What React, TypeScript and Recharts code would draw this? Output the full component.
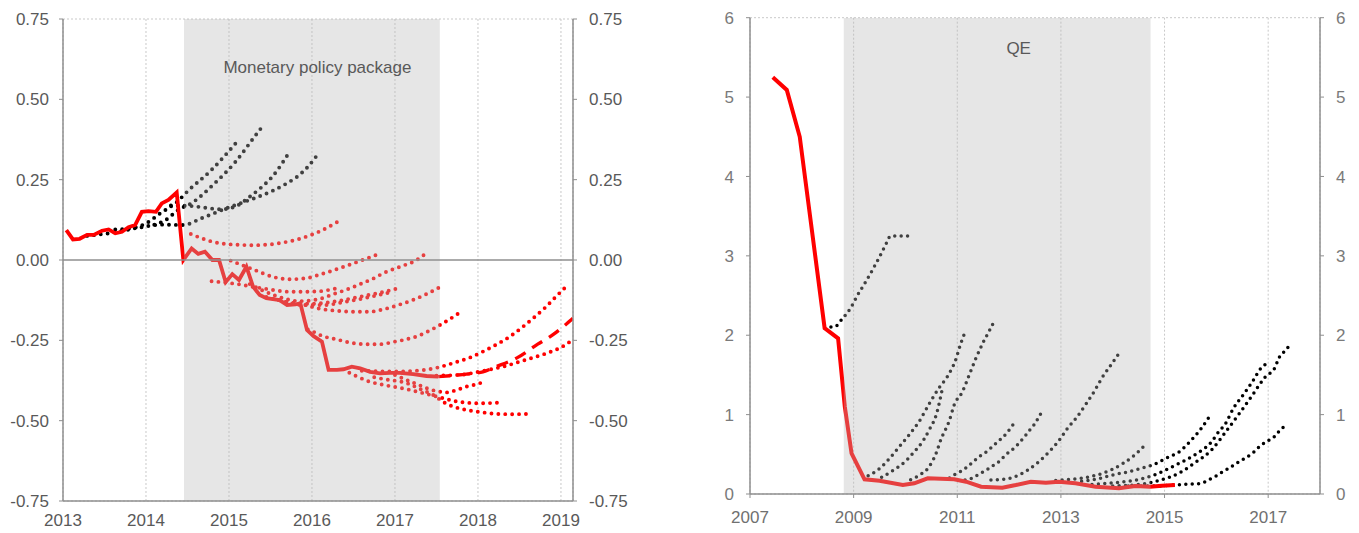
import React from 'react';
import { LineChart, Line, XAxis, YAxis, CartesianGrid, ReferenceArea, ReferenceLine } from 'recharts';

type P = [number, number];

// ---------------- Left panel: euro area ----------------
const leftYearTicks = [2013, 2014, 2015, 2016, 2017, 2018, 2019];
const leftRateTicks = [-0.75, -0.5, -0.25, 0, 0.25, 0.5, 0.75];
const leftXDomain = [2013, 2019.145];
const leftShade = [2014.458, 2017.54];
const leftShadeLabel = 'Monetary policy package';

const euroRate: P[] = [
  [2013.04, 0.093], [2013.12, 0.064], [2013.2, 0.066], [2013.29, 0.078], [2013.37, 0.078],
  [2013.47, 0.091], [2013.55, 0.095], [2013.63, 0.083], [2013.71, 0.088], [2013.79, 0.102],
  [2013.87, 0.109], [2013.95, 0.15], [2014.03, 0.152], [2014.12, 0.15], [2014.19, 0.176],
  [2014.27, 0.187], [2014.37, 0.21], [2014.45, 0.0], [2014.55, 0.036], [2014.63, 0.019],
  [2014.71, 0.026], [2014.8, 0.0], [2014.88, 0.0], [2014.96, -0.069], [2015.04, -0.044],
  [2015.12, -0.062], [2015.21, -0.021], [2015.29, -0.083], [2015.37, -0.109], [2015.45, -0.119],
  [2015.53, -0.122], [2015.61, -0.125], [2015.7, -0.14], [2015.8, -0.138], [2015.86, -0.135],
  [2015.94, -0.218], [2016.02, -0.237], [2016.12, -0.254], [2016.2, -0.342], [2016.3, -0.342],
  [2016.38, -0.34], [2016.48, -0.332], [2016.58, -0.337], [2016.7, -0.348], [2016.82, -0.353],
  [2016.94, -0.351], [2017.06, -0.351], [2017.22, -0.355], [2017.38, -0.361], [2017.52, -0.363],
];
const euroForward: P[] = [
  [2017.52, -0.363], [2017.86, -0.355], [2018.06, -0.348], [2018.22, -0.332], [2018.48, -0.303],
  [2018.72, -0.262], [2018.9, -0.233], [2019.145, -0.181],
];

const euroG1: P[] = [[2013.63, 0.095], [2013.83, 0.099], [2014.0, 0.114], [2014.17, 0.145], [2014.37, 0.18], [2014.51, 0.216], [2014.78, 0.278], [2015.09, 0.366]];
const euroG2: P[] = [[2014.1, 0.11], [2014.24, 0.125], [2014.39, 0.156], [2014.55, 0.177], [2014.82, 0.237], [2015.08, 0.306], [2015.3, 0.381], [2015.41, 0.418]];
const euroG3: P[] = [[2014.3, 0.17], [2014.53, 0.168], [2014.91, 0.158], [2015.09, 0.168], [2015.25, 0.197], [2015.39, 0.226], [2015.53, 0.262], [2015.73, 0.337]];
const euroG4: P[] = [[2013.29, 0.075], [2013.6, 0.085], [2013.9, 0.1], [2014.2, 0.11], [2014.45, 0.109], [2014.67, 0.13], [2015.0, 0.164], [2015.25, 0.187], [2015.53, 0.216], [2015.7, 0.239], [2015.82, 0.259], [2015.96, 0.293], [2016.07, 0.329]];

const euroR1: P[] = [[2014.54, 0.081], [2014.8, 0.057], [2015.05, 0.048], [2015.3, 0.046], [2015.6, 0.052], [2015.85, 0.066], [2016.1, 0.09], [2016.31, 0.119]];
const euroR2: P[] = [[2015.02, -0.002], [2015.29, -0.029], [2015.55, -0.054], [2015.73, -0.06], [2015.92, -0.057], [2016.1, -0.045], [2016.27, -0.031], [2016.44, -0.016], [2016.61, 0.0], [2016.78, 0.016]];
const euroR3: P[] = [[2015.25, -0.075], [2015.55, -0.11], [2015.85, -0.128], [2016.08, -0.122], [2016.26, -0.106], [2016.43, -0.091], [2016.6, -0.073], [2016.76, -0.055], [2016.86, -0.041], [2017.04, -0.023], [2017.28, 0.003], [2017.35, 0.016]];
const euroR4: P[] = [[2014.79, -0.066], [2015.1, -0.075], [2015.4, -0.088], [2015.75, -0.099], [2016.05, -0.098], [2016.3, -0.088]];
const euroR5: P[] = [[2015.92, -0.14], [2016.1, -0.152], [2016.3, -0.158], [2016.5, -0.161], [2016.69, -0.161], [2016.87, -0.153], [2017.04, -0.14], [2017.21, -0.125], [2017.38, -0.106], [2017.55, -0.083]];
const euroR6: P[] = [[2015.45, -0.115], [2015.75, -0.132], [2016.0, -0.136], [2016.3, -0.128], [2016.6, -0.113], [2016.85, -0.1], [2017.05, -0.087]];
const euroR7: P[] = [[2015.6, -0.125], [2015.9, -0.14], [2016.15, -0.14], [2016.4, -0.13], [2016.7, -0.115], [2016.95, -0.1]];
const euroRU: P[] = [[2015.95, -0.216], [2016.04, -0.226], [2016.12, -0.236], [2016.28, -0.246], [2016.46, -0.257], [2016.64, -0.262], [2016.82, -0.262], [2017.0, -0.254], [2017.1, -0.249], [2017.27, -0.237], [2017.43, -0.218], [2017.59, -0.195], [2017.75, -0.169], [2017.82, -0.157]];
const euroR8: P[] = [[2016.6, -0.345], [2017.0, -0.347], [2017.36, -0.342], [2017.54, -0.333], [2017.71, -0.32], [2017.9, -0.304], [2018.06, -0.285], [2018.23, -0.262], [2018.38, -0.239], [2018.53, -0.21], [2018.67, -0.18], [2018.81, -0.148], [2018.94, -0.114], [2019.07, -0.081]];
const euroR9: P[] = [[2017.5, -0.36], [2017.8, -0.357], [2018.06, -0.345], [2018.3, -0.332], [2018.57, -0.311], [2018.83, -0.29], [2019.0, -0.272], [2019.12, -0.252], [2019.145, -0.247]];
const euroR10: P[] = [[2016.45, -0.351], [2016.53, -0.361], [2016.7, -0.379], [2016.87, -0.389], [2017.14, -0.402], [2017.38, -0.417], [2017.58, -0.43], [2017.76, -0.441], [2018.04, -0.446], [2018.31, -0.443]];
const euroR11: P[] = [[2016.75, -0.365], [2016.87, -0.371], [2017.15, -0.384], [2017.29, -0.4], [2017.46, -0.42], [2017.61, -0.446], [2017.69, -0.455], [2017.87, -0.467], [2018.05, -0.474], [2018.23, -0.479], [2018.42, -0.48], [2018.6, -0.479]];
const euroR12: P[] = [[2017.0, -0.358], [2017.25, -0.385], [2017.5, -0.408], [2017.62, -0.412], [2017.77, -0.402], [2017.86, -0.394], [2017.95, -0.389], [2018.04, -0.382]];

const euroBlackCurves = [euroG1, euroG2, euroG3, euroG4];
const euroRedCurves = [euroR1, euroR2, euroR3, euroR4, euroR5, euroR6, euroR7, euroRU, euroR8, euroR9, euroR10, euroR11, euroR12];

// ---------------- Right panel: United States ----------------
const rightYearTicks = [2007, 2009, 2011, 2013, 2015, 2017];
const rightRateTicks = [0, 1, 2, 3, 4, 5, 6];
const rightXDomain = [2007, 2018];
const rightShade = [2008.81, 2014.73];
const rightShadeLabel = 'QE';

const usRate: P[] = [
  [2007.44, 5.25], [2007.71, 5.09], [2007.96, 4.5], [2008.44, 2.09], [2008.7, 1.96], [2008.83, 1.1],
  [2008.96, 0.51], [2009.21, 0.185], [2009.5, 0.168], [2009.95, 0.113], [2010.17, 0.135],
  [2010.43, 0.198], [2010.94, 0.185], [2011.17, 0.155], [2011.46, 0.092], [2011.87, 0.08],
  [2012.13, 0.113], [2012.42, 0.155], [2012.71, 0.142], [2012.96, 0.155], [2013.28, 0.135],
  [2013.67, 0.092], [2014.12, 0.072], [2014.44, 0.1], [2014.72, 0.092], [2014.95, 0.105], [2015.2, 0.113],
];

const usB0: P[] = [[2008.44, 2.09], [2008.54, 2.1], [2008.67, 2.12], [2008.76, 2.19], [2008.94, 2.34], [2009.08, 2.51], [2009.23, 2.67], [2009.37, 2.83], [2009.51, 3.0], [2009.64, 3.17], [2009.71, 3.25], [2009.85, 3.25], [2010.0, 3.25], [2010.15, 3.25]];
const usC1: P[] = [[2009.28, 0.23], [2009.5, 0.32], [2009.71, 0.46], [2009.9, 0.61], [2010.09, 0.76], [2010.26, 0.91], [2010.48, 1.16], [2010.64, 1.33], [2010.82, 1.49], [2010.98, 1.71], [2011.05, 1.86], [2011.15, 2.04]];
const usC2: P[] = [[2009.54, 0.21], [2009.79, 0.31], [2010.03, 0.43], [2010.14, 0.51], [2010.35, 0.68], [2010.46, 0.81], [2010.59, 0.99], [2010.72, 1.35]];
const usC3: P[] = [[2010.1, 0.18], [2010.3, 0.25], [2010.43, 0.32], [2010.59, 0.51], [2010.68, 0.68], [2010.85, 0.93], [2010.94, 1.12], [2011.1, 1.29], [2011.23, 1.5], [2011.36, 1.71], [2011.5, 1.91], [2011.63, 2.07], [2011.7, 2.16]];
const usC4: P[] = [[2010.85, 0.2], [2010.94, 0.24], [2011.08, 0.29], [2011.19, 0.34], [2011.33, 0.42], [2011.42, 0.47], [2011.56, 0.53], [2011.65, 0.58], [2011.75, 0.64], [2011.87, 0.71], [2011.96, 0.77], [2012.06, 0.86], [2012.15, 0.93]];
const usC5: P[] = [[2011.15, 0.176], [2011.29, 0.2], [2011.42, 0.25], [2011.56, 0.3], [2011.67, 0.35], [2011.79, 0.4], [2011.9, 0.47], [2012.0, 0.53], [2012.12, 0.59], [2012.21, 0.655], [2012.31, 0.73], [2012.38, 0.79], [2012.48, 0.87], [2012.65, 1.06]];
const usC6: P[] = [[2011.65, 0.176], [2011.9, 0.185], [2012.16, 0.23], [2012.38, 0.31], [2012.58, 0.41], [2012.77, 0.53], [2012.96, 0.67], [2013.13, 0.83], [2013.31, 0.97], [2013.49, 1.14], [2013.65, 1.3], [2013.79, 1.46], [2013.96, 1.62], [2014.12, 1.77]];
const usC7: P[] = [[2012.9, 0.17], [2013.09, 0.18], [2013.4, 0.2], [2013.7, 0.24], [2013.96, 0.3], [2014.21, 0.39], [2014.44, 0.5], [2014.66, 0.64]];
const usK0: P[] = [[2013.4, 0.16], [2013.7, 0.19], [2014.0, 0.24], [2014.3, 0.28], [2014.53, 0.32], [2014.82, 0.38], [2015.09, 0.47], [2015.28, 0.53], [2015.49, 0.66], [2015.69, 0.81], [2015.86, 0.97]];
const usK1: P[] = [[2013.6, 0.12], [2014.0, 0.14], [2014.4, 0.17], [2014.8, 0.24], [2015.2, 0.36], [2015.6, 0.5], [2015.91, 0.66], [2016.04, 0.78], [2016.17, 0.88], [2016.33, 1.08], [2016.52, 1.25], [2016.69, 1.41], [2016.88, 1.6], [2017.0, 1.65]];
const usK2: P[] = [[2014.0, 0.1], [2014.5, 0.12], [2014.9, 0.17], [2015.3, 0.27], [2015.6, 0.4], [2015.9, 0.55], [2016.2, 0.8], [2016.45, 1.02], [2016.7, 1.25], [2016.95, 1.48], [2017.12, 1.58], [2017.22, 1.73], [2017.32, 1.8], [2017.42, 1.88]];
const usK3: P[] = [[2014.3, 0.1], [2014.8, 0.1], [2015.2, 0.115], [2015.41, 0.122], [2015.57, 0.126], [2015.71, 0.135], [2015.85, 0.18], [2015.98, 0.22], [2016.1, 0.27], [2016.23, 0.32], [2016.35, 0.37], [2016.47, 0.42], [2016.6, 0.47], [2016.71, 0.52], [2016.82, 0.59], [2016.94, 0.65], [2017.05, 0.69], [2017.15, 0.74], [2017.22, 0.8], [2017.35, 0.86]];

const usBlackCurves = [usB0, usC1, usC2, usC3, usC4, usC5, usC6, usC7, usK0, usK1, usK2, usK3];

// ---------------- helpers ----------------
const toRows = (pts: P[]) => pts.map(([x, y]) => ({ x, y }));

const FONT = '"Liberation Sans", Arial, sans-serif';
const GRID = '#c9c9c9';
const AXIS = '#8f8f8f';
const SHADE_FILL = '#b7b7b7';
const SHADE_OPACITY = 0.35;

const dotted = (key: string, pts: P[], color: string, width: number, gap: number) => (
  <Line
    key={key}
    yAxisId="l"
    data={toRows(pts)}
    dataKey="y"
    type="monotone"
    stroke={color}
    strokeWidth={width}
    strokeDasharray={`0 ${gap}`}
    strokeLinecap="round"
    dot={false}
    activeDot={false}
    isAnimationActive={false}
    legendType="none"
  />
);

const shadeLabel = (text: string, dx: number, dy: number, color: string) => (props: any) => {
  const vb = props.viewBox || {};
  return (
    <text
      x={vb.x + vb.width / 2 + dx}
      y={vb.y + dy}
      textAnchor="middle"
      dominantBaseline="central"
      fill={color}
      fontSize={17}
      fontFamily={FONT}
    >
      {text}
    </text>
  );
};

const LeftPanel = () => (
  <LineChart width={640} height={533} margin={{ top: 19, right: 12, bottom: 2, left: 13 }}>
    <CartesianGrid stroke={GRID} strokeDasharray="2 2" />
    <XAxis
      dataKey="x"
      type="number"
      domain={leftXDomain}
      ticks={leftYearTicks}
      allowDataOverflow
      height={30}
      tickLine={false}
      tickSize={4}
      tickMargin={9}
      axisLine={{ stroke: AXIS, strokeWidth: 1.5 }}
      tick={{ fill: '#595959', fontSize: 17 }}
    />
    <YAxis
      yAxisId="l"
      domain={[-0.75, 0.75]}
      ticks={leftRateTicks}
      allowDataOverflow
      width={50}
      tickSize={4}
      tickMargin={10}
      tickFormatter={(v: number) => v.toFixed(2)}
      axisLine={{ stroke: AXIS, strokeWidth: 1.5 }}
      tickLine={{ stroke: AXIS }}
      tick={{ fill: '#595959', fontSize: 17 }}
    />
    <YAxis
      yAxisId="r"
      orientation="right"
      domain={[-0.75, 0.75]}
      ticks={leftRateTicks}
      allowDataOverflow
      width={55}
      tickSize={4}
      tickMargin={12}
      tickFormatter={(v: number) => v.toFixed(2)}
      axisLine={{ stroke: AXIS, strokeWidth: 1.5 }}
      tickLine={{ stroke: AXIS }}
      tick={{ fill: '#595959', fontSize: 17, textAnchor: 'start' }}
    />
    {euroBlackCurves.map((c, i) => dotted(`g${i}`, c, '#000000', 3.9, 6.9))}
    {euroRedCurves.map((c, i) => dotted(`r${i}`, c, '#ff0000', 3.9, 6.9))}
    <Line
      yAxisId="l"
      data={toRows(euroRate)}
      dataKey="y"
      type="linear"
      stroke="#ff0000"
      strokeWidth={3.8}
      dot={false}
      activeDot={false}
      isAnimationActive={false}
      legendType="none"
    />
    <Line
      yAxisId="l"
      data={toRows(euroForward)}
      dataKey="y"
      type="monotone"
      stroke="#ff0000"
      strokeWidth={3.4}
      strokeDasharray="12 8"
      dot={false}
      activeDot={false}
      isAnimationActive={false}
      legendType="none"
    />
    <ReferenceArea
      yAxisId="l"
      x1={leftShade[0]}
      x2={leftShade[1]}
      y1={-0.75}
      y2={0.75}
      fill={SHADE_FILL}
      fillOpacity={SHADE_OPACITY}
      stroke="none"
      ifOverflow="hidden"
      zIndex={450}
      label={shadeLabel(leftShadeLabel, 5.5, 48, '#595959')}
    />
    <ReferenceLine yAxisId="l" y={0} stroke={AXIS} strokeWidth={1.5} zIndex={460} />
  </LineChart>
);

const RightPanel = () => (
  <LineChart width={679} height={533} margin={{ top: 17.7, right: 4, bottom: 9, left: 20 }}>
    <CartesianGrid stroke={GRID} strokeDasharray="2 2" />
    <XAxis
      dataKey="x"
      type="number"
      domain={rightXDomain}
      ticks={rightYearTicks}
      allowDataOverflow
      height={30}
      tickSize={4}
      tickMargin={13}
      axisLine={{ stroke: AXIS, strokeWidth: 1.5 }}
      tickLine={{ stroke: AXIS }}
      tick={{ fill: '#707070', fontSize: 17 }}
    />
    <YAxis
      yAxisId="l"
      domain={[0, 6]}
      ticks={rightRateTicks}
      allowDataOverflow
      width={50}
      tickSize={4}
      tickMargin={12}
      axisLine={{ stroke: AXIS, strokeWidth: 1.5 }}
      tickLine={{ stroke: AXIS }}
      tick={{ fill: '#7a7a7a', fontSize: 17 }}
    />
    <YAxis
      yAxisId="r"
      orientation="right"
      domain={[0, 6]}
      ticks={rightRateTicks}
      allowDataOverflow
      width={35}
      tickSize={4}
      tickMargin={12}
      axisLine={{ stroke: AXIS, strokeWidth: 1.5 }}
      tickLine={{ stroke: AXIS }}
      tick={{ fill: '#7a7a7a', fontSize: 17, textAnchor: 'start' }}
    />
    {usBlackCurves.map((c, i) => dotted(`u${i}`, c, '#000000', 3.5, 6.4))}
    <Line
      yAxisId="l"
      data={toRows(usRate)}
      dataKey="y"
      type="linear"
      stroke="#ff0000"
      strokeWidth={4}
      dot={false}
      activeDot={false}
      isAnimationActive={false}
      legendType="none"
    />
    <ReferenceArea
      yAxisId="l"
      x1={rightShade[0]}
      x2={rightShade[1]}
      y1={0}
      y2={6}
      fill={SHADE_FILL}
      fillOpacity={SHADE_OPACITY}
      stroke="none"
      ifOverflow="hidden"
      zIndex={450}
      label={shadeLabel(rightShadeLabel, 21.5, 30.6, '#595959')}
    />
  </LineChart>
);

export default function App() {
  return (
    <div
      style={{
        position: 'absolute',
        left: 0,
        top: 0,
        width: 1359,
        height: 533,
        background: '#ffffff',
        fontFamily: FONT,
        overflow: 'hidden',
      }}
    >
      <div style={{ position: 'absolute', left: 0, top: 0 }}>
        <LeftPanel />
      </div>
      <div style={{ position: 'absolute', left: 680, top: 0 }}>
        <RightPanel />
      </div>
    </div>
  );
}
